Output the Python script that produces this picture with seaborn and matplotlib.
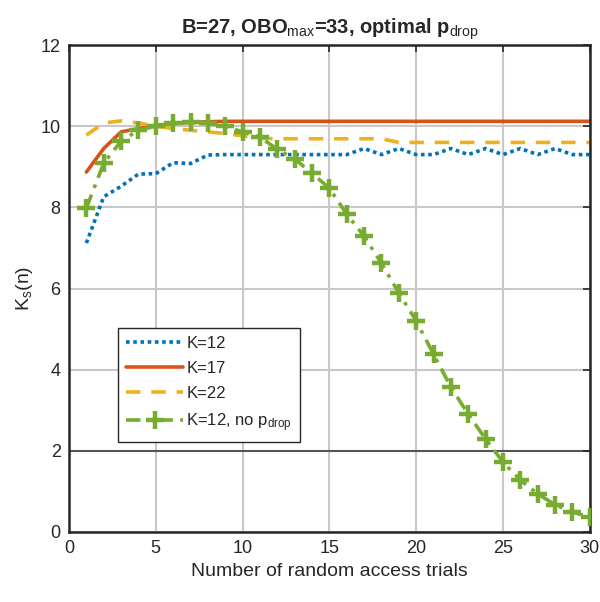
import numpy as np
import pandas as pd
import matplotlib
matplotlib.use('Agg')
import matplotlib.pyplot as plt
from matplotlib.lines import Line2D
import seaborn as sns

trials = list(range(1, 31))
k12 = [7.12, 8.26, 8.52, 8.82, 8.83, 9.10, 9.08, 9.29, 9.30, 9.30,
       9.30, 9.30, 9.30, 9.30, 9.30, 9.30, 9.45, 9.30, 9.45, 9.30,
       9.30, 9.45, 9.30, 9.45, 9.30, 9.45, 9.30, 9.45, 9.30, 9.30]
k17 = [8.87, 9.45, 9.86, 9.94, 10.02, 10.07, 10.09, 10.11, 10.12, 10.12,
       10.12, 10.12, 10.12, 10.12, 10.12, 10.12, 10.12, 10.12, 10.12, 10.12,
       10.12, 10.12, 10.12, 10.12, 10.12, 10.12, 10.12, 10.12, 10.12, 10.12]
k22 = [9.78, 10.08, 10.13, 10.08, 10.00, 9.94, 9.90, 9.86, 9.82, 9.76,
       9.70, 9.69, 9.69, 9.69, 9.69, 9.69, 9.69, 9.69, 9.60, 9.60,
       9.60, 9.60, 9.60, 9.60, 9.60, 9.60, 9.60, 9.60, 9.60, 9.60]
k12_nodrop = [7.98, 9.09, 9.63, 9.90, 10.00, 10.07, 10.10, 10.07, 10.00, 9.86,
              9.73, 9.43, 9.19, 8.84, 8.47, 7.83, 7.29, 6.62, 5.89, 5.20,
              4.38, 3.57, 2.90, 2.29, 1.72, 1.28, 0.94, 0.67, 0.49, 0.37]

sns.set_style('white')
plt.rcParams['font.family'] = ['Liberation Sans', 'DejaVu Sans']
plt.rcParams['mathtext.fontset'] = 'custom'
plt.rcParams['mathtext.rm'] = 'Liberation Sans'
plt.rcParams['mathtext.it'] = 'Liberation Sans'
plt.rcParams['mathtext.bf'] = 'Liberation Sans:bold'

fig = plt.figure(figsize=(6, 6.02), dpi=100)
ax = fig.add_axes([0.115, 0.1163, 0.868, 0.8089])

# grid (the y=2 line is darker in the original)
for xv in range(0, 31, 5):
    ax.axvline(xv, color='#c8c8c8', lw=1.5, zorder=0)
for yv in range(0, 13, 2):
    ax.axhline(yv, color='#555555' if yv == 2 else '#c8c8c8', lw=1.5, zorder=0)

df = pd.DataFrame({'n': trials, 'k12': k12, 'k17': k17, 'k22': k22, 'nodrop': k12_nodrop})

green = '#77AC30'
dashdot = (0, (4, 2, 1, 2))
sns.lineplot(data=df, x='n', y='k12', ax=ax, color='#0072BD', lw=2.6,
             linestyle=(0, (1, 1)), legend=False)
sns.lineplot(data=df, x='n', y='k17', ax=ax, color='#D95319', lw=2.6, legend=False)
sns.lineplot(data=df, x='n', y='k22', ax=ax, color='#EDB120', lw=2.6,
             linestyle=(0, (4, 3)), legend=False)
sns.lineplot(data=df, x='n', y='nodrop', ax=ax, color=green, lw=2.6,
             linestyle=dashdot, legend=False)
ax.plot(df['n'], df['nodrop'], ls='none', marker='+', ms=13, mew=3.2,
        color=green, zorder=5)

handles = [
    Line2D([], [], color='#0072BD', lw=2.6, ls=(0, (1, 1))),
    Line2D([], [], color='#D95319', lw=2.6),
    Line2D([], [], color='#EDB120', lw=2.6, ls=(0, (4, 3))),
    Line2D([], [], color=green, lw=2.6, ls=dashdot, marker='+', ms=13, mew=3.2),
]
labels = ['K=12', 'K=17', 'K=22', 'K=12, no p$_{\\mathrm{drop}}$']
ax.legend(handles, labels, loc='lower left', bbox_to_anchor=(0.094, 0.185),
          fontsize=12, frameon=True, fancybox=False, edgecolor='#262626',
          framealpha=1, handlelength=3.4, handletextpad=0.2, borderpad=0.5,
          labelspacing=0.6, borderaxespad=0, numpoints=1)

ax.set_xlim(0, 30)
ax.set_ylim(0, 12)
ax.set_xticks(range(0, 31, 5))
ax.set_yticks(range(0, 13, 2))
ax.tick_params(direction='in', length=5, width=1.2, labelsize=13,
               top=True, right=True, colors='#262626', pad=6)
for sp in ax.spines.values():
    sp.set_visible(True)
    sp.set_color('#262626')
    sp.set_linewidth(1.8)

ax.set_xlabel('Number of random access trials', fontsize=14, color='#262626')
ax.set_ylabel('K$_{\\mathrm{s}}$(n)', fontsize=14, color='#262626', labelpad=4)
ax.set_title('B=27, OBO$_{\\mathrm{max}}$=33, optimal p$_{\\mathrm{drop}}$',
             fontsize=14.5, fontweight='bold', pad=8)

fig.savefig('out.png', dpi=100)
